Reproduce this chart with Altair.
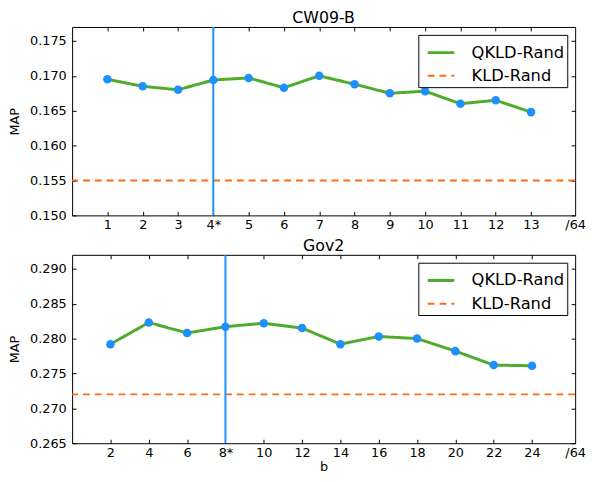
import altair as alt
import pandas as pd

# ---- data ----
top_b = [1, 2, 3, 4, 5, 6, 7, 8, 9, 10, 11, 12, 13]
top_qkld = [0.1695, 0.1685, 0.1680, 0.1694, 0.1697, 0.1683, 0.1700,
            0.1688, 0.1675, 0.1678, 0.1660, 0.1665, 0.1648]
top_kld = 0.155
top_best = 4
top_xmax = 14.25
top_yticks = [0.150, 0.155, 0.160, 0.165, 0.170, 0.175]
top_ydom = [0.150, 0.177]

bot_b = [2, 4, 6, 8, 10, 12, 14, 16, 18, 20, 22, 24]
bot_qkld = [0.2792, 0.2823, 0.2808, 0.2817, 0.2822, 0.2815, 0.2792,
            0.2803, 0.2800, 0.2782, 0.2762, 0.2761]
bot_kld = 0.272
bot_best = 8
bot_xmax = 26.25
bot_yticks = [0.265, 0.270, 0.275, 0.280, 0.285, 0.290]
bot_ydom = [0.265, 0.292]

series_names = ["QKLD-Rand", "KLD-Rand"]

GREEN = "#4fab2c"
BLUE = "#1e8fff"
ORANGE = "#ff6b12"
FONT = "DejaVu Sans"


def panel(title, b, q, kld, best, xmax, ydom, yticks, xlabel):
    df = pd.DataFrame({"b": b, "MAP": q, "series": series_names[0]})
    kdf = pd.DataFrame({"MAP": [kld], "series": [series_names[1]]})
    vdf = pd.DataFrame({"b": [best]})

    xscale = alt.Scale(domain=[0, xmax], nice=False, zero=False)
    yscale = alt.Scale(domain=ydom, nice=False, zero=False)
    cscale = alt.Scale(domain=series_names, range=[GREEN, ORANGE])
    dscale = alt.Scale(domain=series_names, range=[[1, 0], [7, 5]])
    wscale = alt.Scale(domain=series_names, range=[3, 2])
    legend = alt.Legend(title=None, orient="none", legendX=351, legendY=8,
                        symbolType="stroke", symbolSize=729, symbolOffset=5,
                        labelFontSize=16.5, labelFont=FONT, labelColor="black",
                        padding=3, rowPadding=0, labelOffset=16,
                        strokeColor="black", fillColor="white")

    label_expr = (f"datum.value == {best} ? '{best}*' : "
                  f"(datum.value == {xmax} ? '/64' : format(datum.value, 'd'))")
    x_lab = alt.Axis(values=b + [xmax], labelExpr=label_expr, ticks=False,
                     domain=False, grid=False, orient="bottom",
                     title=xlabel if xlabel else None, labelFontSize=13,
                     labelPadding=3, labelFlush=False, titleFontSize=13,
                     titlePadding=2)
    y_lab = alt.Axis(values=yticks, format=".3f", ticks=False, domain=False,
                     grid=False, orient="left", title="MAP", labelFontSize=13,
                     labelPadding=6, titleFontSize=13, titlePadding=8)
    x_bt = alt.Axis(values=b, labels=False, ticks=True, tickSize=4, offset=-4,
                    domain=False, grid=False, orient="bottom", title=None,
                    tickColor="black")
    x_tp = alt.Axis(values=b, labels=False, ticks=True, tickSize=4, offset=-4,
                    domain=False, grid=False, orient="top", title=None,
                    tickColor="black")
    y_lt = alt.Axis(values=yticks, labels=False, ticks=True, tickSize=4,
                    offset=-4, domain=False, grid=False, orient="left",
                    title=None, tickColor="black")
    y_rt = alt.Axis(values=yticks, labels=False, ticks=True, tickSize=4,
                    offset=-4, domain=False, grid=False, orient="right",
                    title=None, tickColor="black")

    kld_rule = alt.Chart(kdf).mark_rule().encode(
        y=alt.Y("MAP:Q", scale=yscale, axis=None),
        color=alt.Color("series:N", scale=cscale, legend=legend),
        strokeDash=alt.StrokeDash("series:N", scale=dscale, legend=legend),
        strokeWidth=alt.StrokeWidth("series:N", scale=wscale, legend=legend),
    )
    vline = alt.Chart(vdf).mark_rule(color=BLUE, strokeWidth=2).encode(
        x=alt.X("b:Q", scale=xscale, axis=None)
    )
    line = alt.Chart(df).mark_line().encode(
        x=alt.X("b:Q", scale=xscale, axis=x_lab),
        y=alt.Y("MAP:Q", scale=yscale, axis=y_lab),
        color=alt.Color("series:N", scale=cscale, legend=legend),
        strokeDash=alt.StrokeDash("series:N", scale=dscale, legend=legend),
        strokeWidth=alt.StrokeWidth("series:N", scale=wscale, legend=legend),
    )
    points = alt.Chart(df).mark_circle(size=75, color=BLUE, opacity=1).encode(
        x=alt.X("b:Q", scale=xscale, axis=x_bt),
        y=alt.Y("MAP:Q", scale=yscale, axis=y_lt),
    )
    ghost = alt.Chart(df).mark_point(opacity=0).encode(
        x=alt.X("b:Q", scale=xscale, axis=x_tp),
        y=alt.Y("MAP:Q", scale=yscale, axis=y_rt),
    )
    return (
        alt.layer(kld_rule, vline, line, points, ghost)
        .resolve_axis(x="independent", y="independent")
        .properties(
            title=alt.TitleParams(title, fontSize=16, font=FONT,
                                  fontWeight="normal", color="black", offset=0),
            width=510, height=191,
        )
    )


top = panel("CW09-B", top_b, top_qkld, top_kld, top_best, top_xmax,
            top_ydom, top_yticks, None)
bot = panel("Gov2", bot_b, bot_qkld, bot_kld, bot_best, bot_xmax,
            bot_ydom, bot_yticks, "b")

chart = (
    alt.vconcat(top, bot, spacing=5)
    .resolve_scale(x="independent", y="independent", color="independent",
                   strokeDash="independent", strokeWidth="independent")
    .configure(padding={"top": -2, "left": 0, "right": 0, "bottom": 0},
               background="white")
    .configure_view(stroke="black", strokeWidth=1)
    .configure_axis(labelFont=FONT, titleFont=FONT, labelColor="black",
                    titleColor="black", titleFontWeight="normal")
)

chart.save("out.html", embed_options={"renderer": "svg", "actions": False})
